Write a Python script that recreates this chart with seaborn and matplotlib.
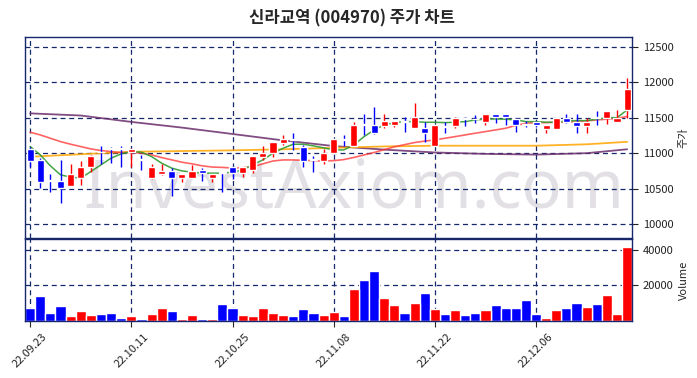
import numpy as np
import pandas as pd
import matplotlib
matplotlib.use('Agg')
import matplotlib.pyplot as plt
import seaborn as sns

dates = ['22.09.23', '22.09.26', '22.09.27', '22.09.28', '22.09.29', '22.09.30', '22.10.04', '22.10.05',
         '22.10.06', '22.10.07', '22.10.11', '22.10.12', '22.10.13', '22.10.14', '22.10.17', '22.10.18',
         '22.10.19', '22.10.20', '22.10.21', '22.10.24', '22.10.25', '22.10.26', '22.10.27', '22.10.28',
         '22.10.31', '22.11.01', '22.11.02', '22.11.03', '22.11.04', '22.11.07', '22.11.08', '22.11.09',
         '22.11.10', '22.11.11', '22.11.14', '22.11.15', '22.11.16', '22.11.17', '22.11.18', '22.11.21',
         '22.11.22', '22.11.23', '22.11.24', '22.11.25', '22.11.28', '22.11.29', '22.11.30', '22.12.01',
         '22.12.02', '22.12.05', '22.12.06', '22.12.07', '22.12.08', '22.12.09', '22.12.12', '22.12.13',
         '22.12.14', '22.12.15', '22.12.16', '22.12.19']

open_ = [11060, 10906, 10610, 10611, 10545, 10649, 10803, 11010, 11060, 11055, 11022, 10905, 10649, 10705, 10751,
         10649, 10649, 10765, 10649, 10720, 10812, 10719, 10765, 10952, 11000, 11140, 11185, 11093, 10905, 10892,
         11000, 11190, 11103, 11400, 11398, 11388, 11398, 11445, 11351, 11351, 11103, 11375, 11384, 11480, 11475,
         11444, 11552, 11552, 11478, 11398, 11444, 11341, 11341, 11500, 11444, 11388, 11500, 11500, 11444, 11608]
close = [10896, 10601, 10610, 10508, 10709, 10812, 10966, 11010, 11060, 11055, 11060, 10905, 10803, 10756, 10649,
         10709, 10756, 10719, 10705, 10720, 10728, 10803, 10962, 11008, 11154, 11201, 11185, 10896, 10905, 11000,
         11201, 11190, 11398, 11400, 11290, 11454, 11454, 11445, 11515, 11290, 11398, 11375, 11500, 11480, 11475,
         11552, 11515, 11515, 11398, 11398, 11398, 11398, 11500, 11444, 11388, 11444, 11500, 11599, 11500, 11899]
high = [11093, 10930, 10705, 10906, 10845, 10896, 10976, 11100, 11093, 11103, 11070, 10976, 10850, 10850, 10798,
        10709, 10840, 10798, 10705, 10740, 10822, 10803, 10962, 11103, 11164, 11257, 11281, 11117, 10962, 11056,
        11201, 11257, 11444, 11552, 11646, 11552, 11454, 11506, 11702, 11444, 11398, 11444, 11515, 11506, 11538,
        11552, 11552, 11552, 11500, 11458, 11458, 11398, 11500, 11552, 11552, 11500, 11599, 11599, 11608, 12054]
low = [10807, 10508, 10455, 10298, 10545, 10554, 10741, 10850, 10860, 10812, 10803, 10765, 10635, 10695, 10400,
       10601, 10649, 10615, 10601, 10450, 10635, 10663, 10728, 10906, 10952, 11117, 11046, 10803, 10742, 10850,
       11000, 11103, 11103, 11257, 11271, 11351, 11370, 11304, 11351, 11163, 11103, 11290, 11351, 11384, 11421,
       11398, 11430, 11398, 11304, 11365, 11365, 11290, 11341, 11430, 11290, 11290, 11398, 11407, 11444, 11500]
volume = [7450, 14170, 4650, 8400, 2800, 5770, 3360, 4100, 4480, 1680, 2800, 1120, 3920, 7280, 5600, 1120,
          3360, 1120, 1120, 9520, 7280, 3360, 2800, 7280, 4480, 3360, 2800, 6720, 4480, 3360, 5040, 2800,
          17920, 22960, 28000, 12880, 8960, 4480, 10080, 15680, 6720, 3920, 6160, 3360, 4480, 6160, 8960, 7280,
          7280, 11760, 3920, 1680, 6160, 7280, 10080, 7840, 9520, 14560, 3920, 41440]

ma5 = [11093, 10976, 10822, 10695, 10663, 10649, 10742, 10836, 10930, 10990, 11022, 11014, 10952, 10859, 10789,
       10751, 10733, 10719, 10719, 10719, 10733, 10765, 10836, 10906, 11000, 11070, 11126, 11126, 11103, 11075,
       11046, 11046, 11117, 11233, 11327, 11398, 11430, 11444, 11444, 11435, 11435, 11430, 11435, 11444, 11468,
       11478, 11482, 11478, 11468, 11444, 11444, 11435, 11435, 11454, 11458, 11458, 11478, 11500, 11500, 11608]
ma20 = [11295, 11257, 11210, 11163, 11126, 11093, 11060, 11037, 11022, 11008, 11010, 11000, 10976, 10938, 10906,
        10873, 10850, 10822, 10805, 10800, 10790, 10795, 10810, 10850, 10890, 10905, 10905, 10900, 10895, 10890,
        10895, 10910, 10940, 10975, 11010, 11050, 11090, 11120, 11150, 11170, 11187, 11210, 11233, 11257, 11281,
        11304, 11327, 11351, 11390, 11421, 11430, 11430, 11435, 11435, 11444, 11454, 11468, 11478, 11492, 11515]
ma_long_idx = [0, 5, 10, 15, 20, 25, 30, 35, 40, 45, 50, 55, 59]
ma60 = [10950, 10985, 11020, 11030, 11040, 11055, 11075, 11095, 11105, 11105, 11105, 11125, 11160]
ma120 = [11560, 11530, 11440, 11360, 11270, 11180, 11100, 11050, 11010, 10990, 10980, 11000, 11055]

sns.set_style('white')
plt.rcParams['font.family'] = ['Noto Sans CJK KR', 'DejaVu Sans']
plt.rcParams['axes.unicode_minus'] = False

navy = '#16286b'
up_c = '#ff0000'
down_c = '#0000ff'

df = pd.DataFrame({'idx': np.arange(len(dates)), 'open': open_, 'close': close,
                   'high': high, 'low': low, 'volume': volume, 'ma5': ma5, 'ma20': ma20})
df['dir'] = np.where(df['close'] > df['open'], 'up', 'down')
long_df = pd.DataFrame({'idx': ma_long_idx, 'ma60': ma60, 'ma120': ma120})

fig = plt.figure(figsize=(6.97, 3.78), dpi=100)
ax = fig.add_axes([0.036, 0.371, 0.871, 0.531])
axv = fig.add_axes([0.036, 0.151, 0.871, 0.217], sharex=ax)

# watermark behind everything
ax.text(0.542, 0.24, 'InvestAxiom.com', transform=ax.transAxes, fontsize=48, color='#e2e0e4',
        ha='center', va='center', family=['Noto Sans', 'DejaVu Sans'], zorder=0)

# moving averages
sns.lineplot(data=long_df, x='idx', y='ma120', ax=ax, color='#6b2d6b', lw=1.3, alpha=0.85)
sns.lineplot(data=long_df, x='idx', y='ma60', ax=ax, color='#ffa500', lw=1.3, alpha=0.85)
sns.lineplot(data=df, x='idx', y='ma20', ax=ax, color='#ff3030', lw=1.2, alpha=0.75)
sns.lineplot(data=df, x='idx', y='ma5', ax=ax, color='#2e9a2e', lw=1.1, alpha=0.9)

# candles
colors = df['dir'].map({'up': up_c, 'down': down_c})
ax.vlines(df['idx'], df['low'], df['high'], colors=colors, lw=1.0, zorder=3)
body_h = (df['close'] - df['open']).abs().clip(lower=12)
body_b = df[['open', 'close']].min(axis=1)
ax.bar(df['idx'], body_h, bottom=body_b, width=0.7, color=colors, zorder=4)

# volume
sns.barplot(data=df, x='idx', y='volume', hue='dir', palette={'up': up_c, 'down': down_c},
            dodge=False, width=1.0, saturation=1, legend=False, ax=axv, native_scale=True)

for a in (ax, axv):
    a.grid(True, color=navy, ls=(0, (4, 3)), lw=0.9)
    for s in a.spines.values():
        s.set_color(navy)
        s.set_linewidth(1.0)
    a.yaxis.tick_right()
    a.yaxis.set_label_position('right')
    a.tick_params(axis='y', labelsize=8, colors='#222222', length=4, right=True, left=False)
    a.set_axisbelow(True)

ax.set_xlim(-0.5, 59.5)
ax.set_ylim(9810, 12634)
ax.set_yticks(np.arange(10000, 12501, 500))
ax.set_ylabel('주가', fontsize=8)
ax.set_xlabel('')
ax.tick_params(axis='x', labelbottom=False, length=0)

axv.set_ylim(0, 46000)
axv.set_yticks([20000, 40000])
axv.set_ylabel('Volume', fontsize=8)
axv.set_xlabel('')
tick_pos = list(range(0, 60, 10))
axv.set_xticks(tick_pos)
axv.set_xticklabels([dates[i] for i in tick_pos], rotation=45, fontsize=8, color='#222222')
axv.tick_params(axis='x', length=4, bottom=True)

fig.suptitle('신라교역 (004970) 주가 차트', x=0.505, y=0.975, fontsize=12, fontweight='bold')

fig.savefig('out.png', dpi=100)
